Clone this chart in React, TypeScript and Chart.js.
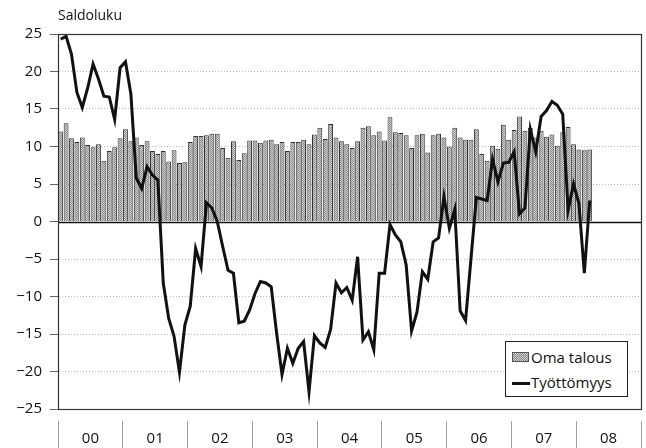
import React, { useEffect, useRef } from "react";
import { Chart, registerables } from "chart.js";

Chart.register(...registerables);

// Years shown on the x axis (each spans 12 months)
const yearLabels = ["00", "01", "02", "03", "04", "05", "06", "07", "08"];

// Monthly values Jan 2000 – Mar 2008
const omaTalous = [
  12.0, 13.1, 11.1, 10.6, 11.2, 10.2, 9.9, 10.3, 8.1, 9.4, 9.9, 11.1,
  12.3, 10.7, 11.2, 10.2, 10.7, 9.4, 9.0, 9.4, 8.0, 9.5, 7.8, 7.9,
  10.6, 11.4, 11.4, 11.5, 11.7, 11.7, 9.8, 8.5, 10.7, 8.2, 9.1, 10.8,
  10.8, 10.5, 10.8, 10.9, 10.3, 10.6, 9.4, 10.6, 10.6, 10.9, 10.3, 11.6,
  12.5, 11.0, 13.0, 11.2, 10.7, 10.3, 9.8, 10.7, 12.5, 12.7, 11.5, 12.0,
  10.8, 13.9, 11.9, 11.8, 11.5, 9.8, 11.5, 11.7, 9.2, 11.5, 11.7, 11.2,
  10.0, 12.5, 11.2, 10.9, 10.9, 12.3, 9.0, 8.1, 10.1, 9.7, 12.9, 10.9,
  12.2, 14.0, 12.1, 12.5, 11.2, 12.1, 11.3, 11.6, 10.1, 11.9, 12.6, 10.3,
  9.6, 9.5, 9.6,
];

const tyottomyys = [
  24.3, 24.7, 22.3, 17.2, 15.2, 17.8, 21.0, 19.0, 16.7, 16.6, 13.6, 20.5,
  21.3, 17.0, 5.8, 4.4, 7.3, 6.2, 5.5, -8.2, -12.9, -15.3, -20.1, -13.8,
  -11.3, -3.6, -6.0, 2.5, 1.8, 0.0, -3.3, -6.5, -6.9, -13.5, -13.3, -11.8,
  -9.6, -8.0, -8.2, -8.7, -14.9, -20.4, -16.9, -18.9, -16.9, -16.0, -22.7, -15.2,
  -16.2, -16.8, -14.4, -8.2, -9.5, -8.8, -10.5, -4.7, -15.8, -14.7, -17.1, -6.9,
  -6.9, -0.4, -1.8, -2.7, -5.8, -14.6, -12.1, -6.7, -7.7, -2.7, -2.2, 3.3,
  -0.9, 1.6, -11.9, -13.2, -5.0, 3.2, 3.0, 2.8, 8.3, 5.3, 7.8, 7.9,
  9.3, 1.0, 1.8, 12.3, 9.3, 14.0, 14.8, 16.0, 15.5, 14.3, 1.5, 5.0,
  2.4, -6.9, 2.8,
];

const yMin = -25;
const yMax = 25;
const yStep = 5;

const FONT = "'Open Sans', 'DejaVu Sans', sans-serif";

function makePattern(): CanvasPattern | string {
  const c = document.createElement("canvas");
  c.width = 2;
  c.height = 2;
  const g = c.getContext("2d");
  if (!g) return "#b8b8b8";
  g.fillStyle = "#d2d2d2";
  g.fillRect(0, 0, 2, 2);
  g.fillStyle = "#888888";
  g.fillRect(0, 0, 1, 1);
  g.fillRect(1, 1, 1, 1);
  const p = g.createPattern(c, "repeat");
  return p || "#b8b8b8";
}

const framePlugin = {
  id: "frame",
  afterDatasetsDraw(chart: any) {
    const { ctx, chartArea, scales } = chart;
    ctx.save();
    const y0 = Math.round(scales.y.getPixelForValue(0)) + 0.5;
    ctx.strokeStyle = "#111";
    ctx.lineWidth = 1.5;
    ctx.beginPath();
    ctx.moveTo(chartArea.left, y0);
    ctx.lineTo(chartArea.right, y0);
    ctx.stroke();
    ctx.strokeStyle = "#333";
    ctx.lineWidth = 1.2;
    ctx.strokeRect(
      Math.round(chartArea.left) + 0.5,
      Math.round(chartArea.top) + 0.5,
      Math.round(chartArea.right - chartArea.left),
      Math.round(chartArea.bottom - chartArea.top)
    );
    ctx.restore();
  },
};

export default function App() {
  const ref = useRef<HTMLCanvasElement | null>(null);

  useEffect(() => {
    if (!ref.current) return;
    const pattern = makePattern();
    const months = yearLabels.length * 12;
    const barData = omaTalous.map((v, i) => ({ x: i + 0.5, y: v }));
    const lineData = tyottomyys.map((v, i) => ({ x: i + 0.5, y: v }));

    const chart = new Chart(ref.current, {
      type: "bar",
      data: {
        datasets: [
          {
            type: "line",
            label: "Työttömyys",
            data: lineData as any,
            borderColor: "#111",
            borderWidth: 3,
            pointRadius: 0,
            tension: 0,
            fill: false,
            order: 0,
          } as any,
          {
            type: "bar",
            label: "Oma talous",
            data: barData as any,
            backgroundColor: pattern as any,
            borderColor: "#333",
            borderWidth: 1,
            borderSkipped: "start",
            barPercentage: 1,
            categoryPercentage: 0.9,
            order: 1,
          } as any,
        ],
      },
      options: {
        responsive: false,
        animation: false,
        layout: { padding: { top: 34, right: 5, left: 0, bottom: 0 } },
        plugins: {
          legend: { display: false },
          title: { display: false },
          tooltip: { enabled: false },
        },
        scales: {
          x: {
            type: "linear",
            offset: false,
            min: 0,
            max: months,
            afterBuildTicks: (scale: any) => {
              const t = [];
              for (let v = 0; v <= months; v += 6) t.push({ value: v });
              scale.ticks = t;
            },
            afterFit: (scale: any) => {
              scale.height = 39;
            },
            ticks: {
              autoSkip: false,
              maxRotation: 0,
              padding: -18,
              color: "#111",
              font: { family: FONT, size: 15 },
              callback: (value: any) => {
                const v = Number(value);
                if (v % 12 === 6) return yearLabels[(v - 6) / 12];
                return "";
              },
            },
            grid: {
              offset: false,
              drawOnChartArea: false,
              drawTicks: true,
              tickLength: 39,
              tickWidth: 1,
              tickBorderDash: [0, 11, 40],
              tickColor: (ctx: any) =>
                ctx.tick && ctx.tick.value % 12 === 0 ? "#a0a0a0" : "rgba(0,0,0,0)",
            },
            border: { display: true, color: "#333", width: 1 },
          },
          y: {
            min: yMin,
            max: yMax,
            afterFit: (scale: any) => {
              scale.width = 58;
            },
            ticks: {
              stepSize: yStep,
              padding: 8,
              color: "#111",
              font: { family: FONT, size: 15 },
              callback: (value: any) => {
                const v = Number(value);
                return v < 0 ? "\u2212" + Math.abs(v) : String(v);
              },
            },
            grid: {
              color: (ctx: any) =>
                ctx.tick && ctx.tick.value === 0 ? "rgba(0,0,0,0)" : "#bdbdbd",
              lineWidth: 1,
              tickLength: 8,
              tickColor: "#666",
            },
            border: { display: true, color: "#333", width: 1, dash: [1, 2] },
          },
        },
      },
      plugins: [framePlugin],
    });

    return () => chart.destroy();
  }, []);

  return (
    <div
      style={{
        position: "fixed",
        left: 0,
        top: 0,
        width: 646,
        height: 448,
        background: "#fff",
        overflow: "hidden",
      }}
    >
      <canvas
        ref={ref}
        width={646}
        height={448}
        style={{ position: "absolute", left: 0, top: 0, width: 646, height: 448 }}
      />
      <div
        style={{
          position: "absolute",
          left: 58,
          top: 5,
          fontFamily: FONT,
          fontSize: 14,
          color: "#111",
          lineHeight: "20px",
        }}
      >
        Saldoluku
      </div>
      <div
        style={{
          position: "absolute",
          left: 505,
          top: 341,
          width: 123,
          height: 56,
          border: "1px solid #222",
          background: "#fff",
          fontFamily: FONT,
          fontSize: 15,
          color: "#111",
          boxSizing: "border-box",
        }}
      >
        <div style={{ position: "absolute", left: 6, top: 10, width: 17, height: 10, border: "1px solid #555", boxSizing: "border-box", background: "repeating-conic-gradient(#888 0 25%, #d2d2d2 0 50%) 0 0/2px 2px" }} />
        <div style={{ position: "absolute", left: 25, top: 4, lineHeight: "22px", whiteSpace: "nowrap" }}>Oma talous</div>
        <div style={{ position: "absolute", left: 6, top: 40, width: 18, height: 3, background: "#111" }} />
        <div style={{ position: "absolute", left: 25, top: 29, lineHeight: "22px", whiteSpace: "nowrap" }}>Työttömyys</div>
      </div>
    </div>
  );
}
